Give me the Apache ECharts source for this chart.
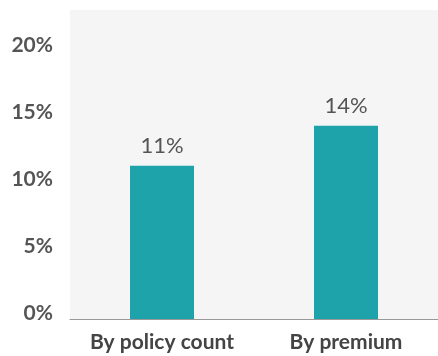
<!DOCTYPE html>
<html>
<head>
<meta charset="utf-8">
<script src="https://cdn.jsdelivr.net/npm/echarts@6/dist/echarts.min.js"></script>
<style>
  html, body { margin: 0; padding: 0; background: #ffffff; }
  #chart { width: 438px; height: 356px; }
</style>
</head>
<body>
<div id="chart"></div>
<script>
// Share of cases, by measure
const categories = ['By policy count', 'By premium'];
const shareValues = [11, 14];
const yTicks = [0, 5, 10, 15, 20];

// Value range of the plot; the floor sits a little below zero so the
// baseline line runs just under the 0% tick.
const axisFloor = -0.45;
const axisCeil = 22.65;

const barColor = '#1ea3ab';
const textColor = '#555555';

// Filler that carries each bar down from 0 to the plot floor.
const floorFill = categories.map(() => axisFloor);

const chart = echarts.init(document.getElementById('chart'), null, { renderer: 'canvas' });

chart.setOption({
  animation: false,
  textStyle: { fontFamily: 'Lato' },
  grid: {
    left: 70, right: 0, top: 10, bottom: 37,
    show: true, backgroundColor: '#f5f5f5', borderWidth: 0
  },
  xAxis: {
    type: 'category',
    data: categories,
    axisLine: { onZero: false, lineStyle: { color: '#999999', width: 1 } },
    axisTick: { show: false },
    axisLabel: {
      interval: 0,
      hideOverlap: false,
      color: '#444444', fontSize: 21, fontWeight: 'bold', fontFamily: 'Lato', margin: 13
    }
  },
  yAxis: {
    type: 'value',
    min: axisFloor,
    max: axisCeil,
    splitLine: { show: false },
    axisLine: { show: false },
    axisTick: { show: false },
    axisLabel: {
      customValues: yTicks,
      formatter: v => v + '%',
      color: textColor, fontSize: 21, fontWeight: 'bold', fontFamily: 'Lato', margin: 17
    }
  },
  series: [
    {
      type: 'bar',
      stack: 'share',
      data: floorFill,
      barWidth: 64,
      itemStyle: { color: barColor },
      silent: true
    },
    {
      type: 'bar',
      stack: 'share',
      data: shareValues,
      barWidth: 64,
      itemStyle: { color: barColor },
      label: {
        show: true,
        position: 'top',
        distance: 9,
        formatter: p => p.value + '%',
        color: textColor, fontSize: 22, fontFamily: 'Lato'
      }
    }
  ]
});
</script>
</body>
</html>
